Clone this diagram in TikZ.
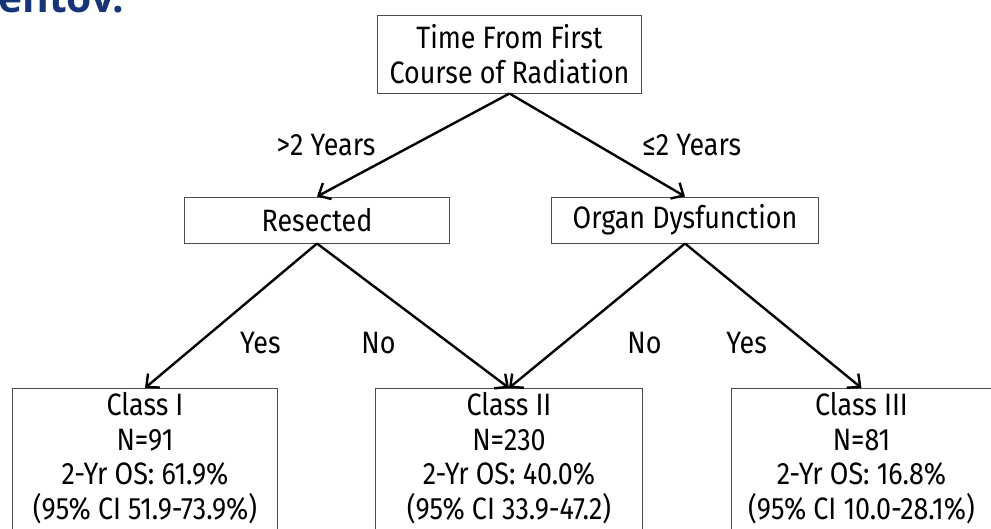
\documentclass[tikz,border=0pt]{standalone}
\usepackage{fontspec}
\setmainfont{Fira Sans}[FakeStretch=0.87]
\newfontfamily\headfont{Open Sans}
\usetikzlibrary{arrows.meta}
\definecolor{headblue}{RGB}{24,52,120}
\tikzset{
  box/.style={draw=black!70, line width=0.7pt, align=center, inner xsep=0pt},
  arr/.style={-{Straight Barb[length=7pt,width=13pt]}, line width=1.7pt},
  lbl/.style={font=\fontsize{22}{25}\selectfont}
}
\begin{document}
\begin{tikzpicture}[x=0.025cm, y=-0.025cm, font=\fontsize{22}{25.2}\selectfont]
\useasboundingbox (0,0) rectangle (991,528);
% cut-off heading
\node[anchor=base west, inner sep=0, text=headblue, font=\headfont\bfseries\fontsize{29}{30}\selectfont] (head) at (-2,12) {entov.};
% decision boxes
\node[box, minimum width=6.58cm, minimum height=1.95cm] (root) at (509.5,54) {Time From First\\Course of Radiation};
\node[box, minimum width=6.6cm, minimum height=1.15cm] (resect) at (317,220) {Resected};
\node[box, minimum width=6.65cm, minimum height=1.15cm] (organ) at (685,220) {Organ Dysfunction};
% outcome classes
\foreach \n/\x/\w/\cls/\num/\os/\ci in {
  classI/145/6.6/Class I/91/61.9\%/51.9-73.9\%),
  classII/509/6.65/Class II/230/40.0\%/33.9-47.2),
  classIII/861.5/6.48/Class III/81/16.8\%/10.0-28.1\%)} {
  \node[box, anchor=north, minimum width=\w cm, inner ysep=0.1cm, text depth=1cm,
    font=\fontsize{22}{24.6}\selectfont] (\n) at (\x,388)
    {\cls\\N=\num\\2-Yr OS: \os\\(95\% CI \ci};
}
% splits
\draw[arr] (root.south) -- (resect.north) node[midway, lbl, left=0.8cm] {>2 Years};
\draw[arr] (root.south) -- (organ.north) node[midway, lbl, right=0.98cm] {≤2 Years};
\draw[arr] (resect.south) -- (classI.north) node[pos=0.69, lbl, right=0.9cm] {Yes};
\draw[arr] (resect.south) -- (classII.north) node[pos=0.69, lbl, left=1.2cm] {No};
\draw[arr] (organ.south) -- (classII.north) node[pos=0.69, lbl, right=1.45cm] {No};
\draw[arr] (organ.south) -- (classIII.north) node[pos=0.69, lbl, left=0.85cm] {Yes};
\end{tikzpicture}
\end{document}
